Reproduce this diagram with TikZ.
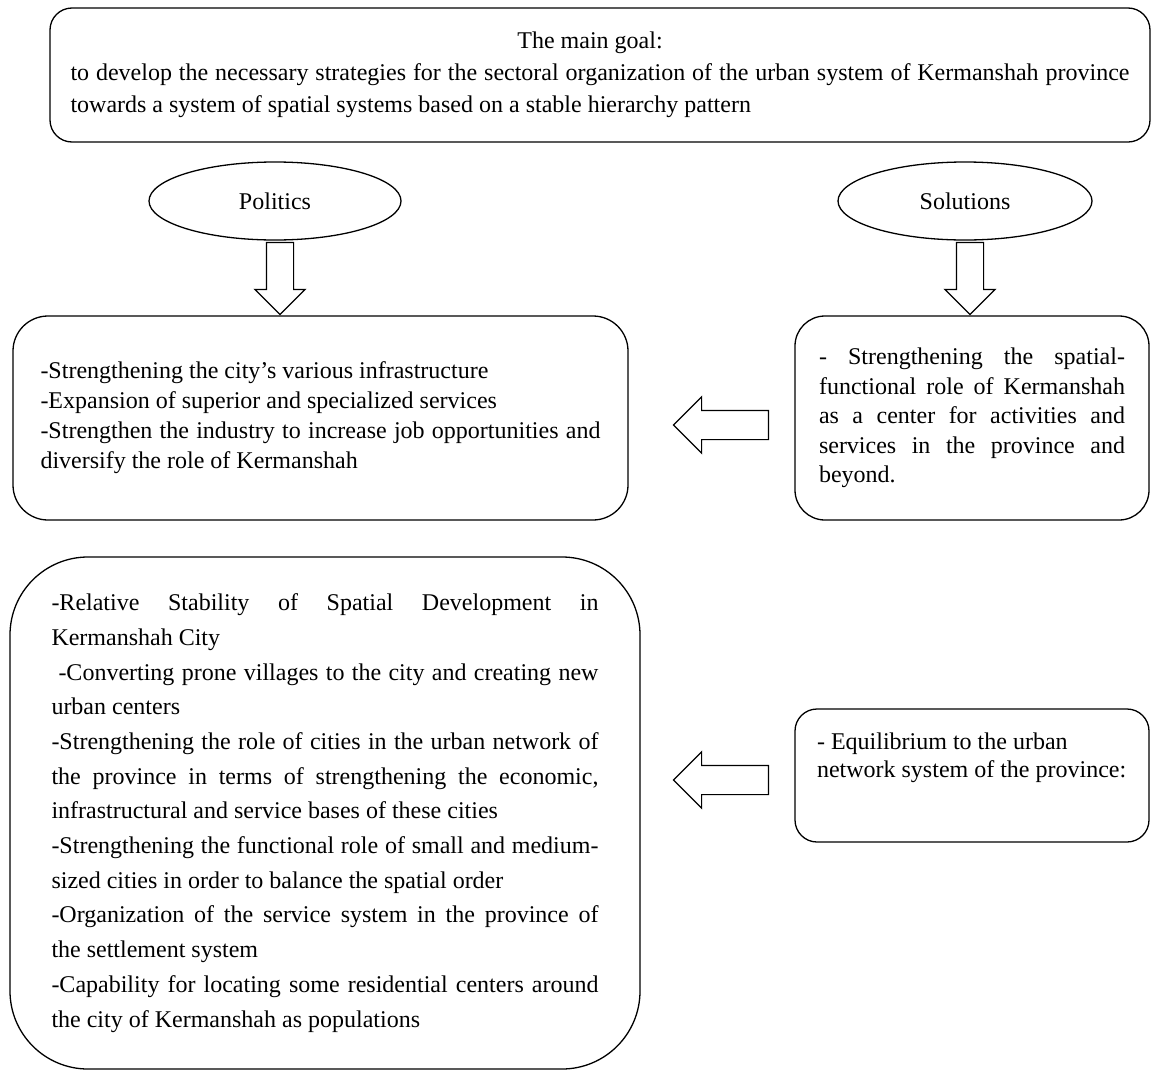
\documentclass[tikz,border=0pt]{standalone}
\usepackage{fontspec}
\setmainfont{Liberation Serif}
\usepackage{tikz}
\usetikzlibrary{shapes.geometric, shapes.arrows, calc}
\newcommand{\jl}[1]{\makebox[\linewidth][s]{#1}}

\begin{document}
\begin{tikzpicture}[x=1pt, y=1pt,
    box/.style={draw, line width=1.3pt, align=left, inner sep=0pt,
        execute at begin node={\spaceskip=0pt\xspaceskip=0pt}},
    oval/.style={ellipse, draw, line width=1.3pt, font=\fontsize{24}{30}\selectfont},
    blockarrow/.style={single arrow, draw, line width=1.2pt, fill=white, inner xsep=0pt,
        single arrow head extend=#1, single arrow tip angle=90}]
    \useasboundingbox (0,0) rectangle (1151,-1071);

    \node[box, rounded corners=22pt, minimum width=1100, minimum height=134, text width=1059,
          font=\fontsize{24}{32}\selectfont] (goal) at (600,-75)
        {\makebox[\linewidth]{The main goal:\hspace*{20pt}}\\
         \jl{to develop the necessary strategies for the sectoral organization of the urban system of Kermanshah province}\\
         towards a system of spatial systems based on a stable hierarchy pattern};

    \node[oval, minimum width=252, minimum height=78] (pol) at (275,-201) {Politics};
    \node[oval, minimum width=254, minimum height=78] (sol) at (965,-201) {Solutions};

    \node[box, rounded corners=35pt, minimum width=615, minimum height=204, text width=560,
          font=\fontsize{24}{30}\selectfont] (act) at (320.5,-418)
        {-Strengthening the city's various infrastructure\\
         -Expansion of superior and specialized services\\
         \jl{-Strengthen the industry to increase job opportunities and}\\
         diversify the role of Kermanshah};

    \node[box, rounded corners=30pt, minimum width=354, minimum height=204, text width=306,
          font=\fontsize{24}{29.5}\selectfont] (role) at (972,-418)
        {\jl{- Strengthening the spatial-}\\
         \jl{functional role of Kermanshah}\\
         \jl{as a center for activities and}\\
         \jl{services in the province and}\\
         beyond.};

    \node[box, rounded corners=78pt, minimum width=630, minimum height=512, text width=547,
          font=\fontsize{24}{34.7}\selectfont] (meas) at (325,-813)
        {\jl{-Relative Stability of Spatial Development in}\\
         Kermanshah City\\
         \jl{\hspace*{7pt}-Converting prone villages to the city and creating new}\\
         urban centers\\
         \jl{-Strengthening the role of cities in the urban network of}\\
         \jl{the province in terms of strengthening the economic,}\\
         infrastructural and service bases of these cities\\
         \jl{-Strengthening the functional role of small and medium-}\\
         sized cities in order to balance the spatial order\\
         \jl{-Organization of the service system in the province of}\\
         the settlement system\\
         \jl{-Capability for locating some residential centers around}\\
         the city of Kermanshah as populations};

    \node[box, rounded corners=22pt, minimum width=354, minimum height=133, text width=310,
          font=\fontsize{24}{28}\selectfont] (equi) at (972,-775.5)
        {- Equilibrium to the urban\\
         network system of the province:\\[12pt]
         \mbox{}};

    % hollow block arrows
    \node[blockarrow=11.5pt, rotate=-90, minimum height=72, minimum width=49, inner ysep=13pt,
          anchor=tip] (polarr) at ($(pol.south |- act.north)+(5,0)$) {};
    \node[blockarrow=11.5pt, rotate=-90, minimum height=72, minimum width=49, inner ysep=13pt,
          anchor=tip] (solarr) at ($(sol.south |- role.north)+(5,0)$) {};
    \node[blockarrow=13.5pt, rotate=180, minimum height=95, minimum width=55, inner ysep=14pt,
          anchor=tip] (rolearr) at ($(act.east)+(44,-7)$) {};
    \node[blockarrow=13.5pt, rotate=180, minimum height=95, minimum width=55, inner ysep=14pt,
          anchor=tip] (equiarr) at ($(meas.east |- equi.west)+(32,-4.5)$) {};
\end{tikzpicture}
\end{document}
